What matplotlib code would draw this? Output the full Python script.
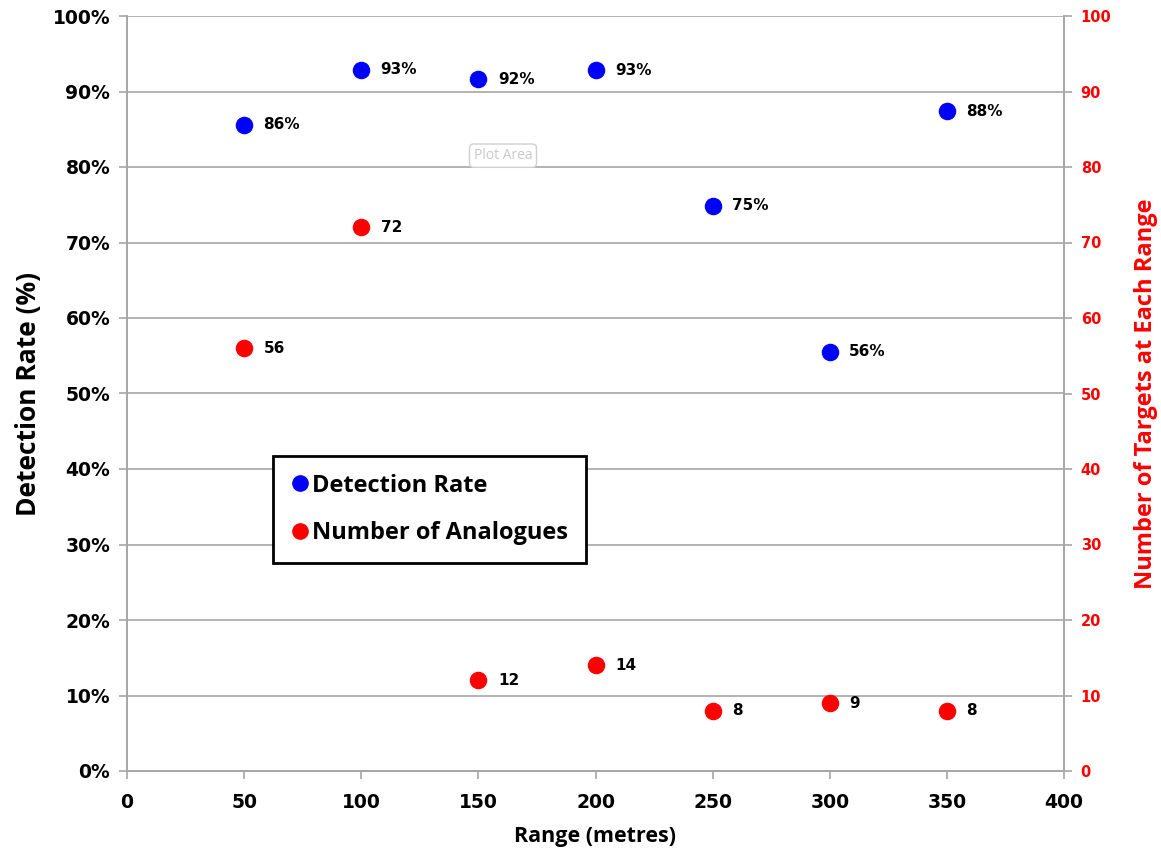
import numpy as np
import matplotlib.pyplot as plt
import matplotlib.ticker as ticker
from matplotlib.lines import Line2D

#--------- data ---------
range_m = [50, 100, 150, 200, 250, 300, 350]
det_rate = [0.856, 0.929, 0.916, 0.928, 0.749, 0.555, 0.874]
det_labels = ['86%', '93%', '92%', '93%', '75%', '56%', '88%']
n_analogues = [56, 72, 12, 14, 8, 9, 8]

BLUE = '#0000ff'
RED = '#ff0000'
GRID = '#a6a6a6'

#--------- plot ---------
fig = plt.figure(figsize=(11.61, 8.56), dpi=100)
ax1 = fig.add_axes([127/1161, 1-771/856, (1064-127)/1161, (771-16)/856])
ax2 = ax1.twinx()

ax1.set_xlim(0, 400)
ax1.set_ylim(0, 1.0)
ax2.set_ylim(0, 100)

ax1.yaxis.set_major_locator(ticker.MultipleLocator(0.1))
ax1.yaxis.set_major_formatter(ticker.PercentFormatter(1.0, decimals=0))
ax1.xaxis.set_major_locator(ticker.MultipleLocator(50))
ax2.yaxis.set_major_locator(ticker.MultipleLocator(10))

ax1.grid(axis='y', color=GRID, lw=1.2)
ax1.set_axisbelow(True)

for ax in (ax1, ax2):
    for s in ['left', 'right', 'bottom']:
        ax.spines[s].set_color(GRID)
        ax.spines[s].set_linewidth(1.2)
    ax.spines['top'].set_visible(False)

ax1.tick_params(axis='y', length=6, color=GRID, width=1.2, labelsize=13.5, pad=6)
ax1.tick_params(axis='x', length=6, color=GRID, width=1.2, labelsize=13.5, pad=10)
ax2.tick_params(axis='y', length=6, color=GRID, width=1.2, labelsize=10.5, labelcolor=RED, pad=6)
for lab in ax1.get_yticklabels() + ax1.get_xticklabels() + ax2.get_yticklabels():
    lab.set_fontweight('bold')

ax1.scatter(range_m, det_rate, s=135, color=BLUE, zorder=3)
ax2.scatter(range_m, n_analogues, s=135, color=RED, zorder=3)

# data labels
for x, y, t in zip(range_m, det_rate, det_labels):
    ax1.annotate(t, (x, y), xytext=(14, 0), textcoords='offset points',
                 va='center', ha='left', fontsize=11, fontweight='bold')
for x, y in zip(range_m, n_analogues):
    ax2.annotate(str(y), (x, y), xytext=(14, 0), textcoords='offset points',
                 va='center', ha='left', fontsize=11, fontweight='bold')

ax1.set_xlabel('Range (metres)', fontsize=15.5, fontweight='bold', family='Open Sans', labelpad=10)
ax1.set_ylabel('Detection Rate (%)', fontsize=19, fontweight='bold', family='Open Sans', labelpad=8)
ax2.set_ylabel('Number of Targets at Each Range', fontsize=17, fontweight='bold',
               family='Open Sans', color=RED, labelpad=16)

handles = [Line2D([], [], ls='', marker='o', ms=11, color=BLUE),
           Line2D([], [], ls='', marker='o', ms=11, color=RED)]
leg = ax1.legend(handles, ['Detection Rate', 'Number of Analogues'],
                 loc='upper left', bbox_to_anchor=((273-127)/937, (771-456)/755),
                 borderaxespad=0, fancybox=False, framealpha=1, edgecolor='black',
                 handletextpad=0.1, handlelength=0.8, labelspacing=1.0, borderpad=0.75,
                 prop={'family': 'Open Sans', 'weight': 'bold', 'size': 17})
leg.get_frame().set_linewidth(2)
leg.set_zorder(5)

# stray Excel tooltip
ax1.text(0.37, 0.815, 'Plot Area', transform=ax1.transAxes, fontsize=10, color='#c8c8c8',
         ha='left', va='center', family='Open Sans',
         bbox=dict(boxstyle='round,pad=0.3', fc='white', ec='#d0d0d0', lw=1))

fig.savefig('out.png', dpi=100)
